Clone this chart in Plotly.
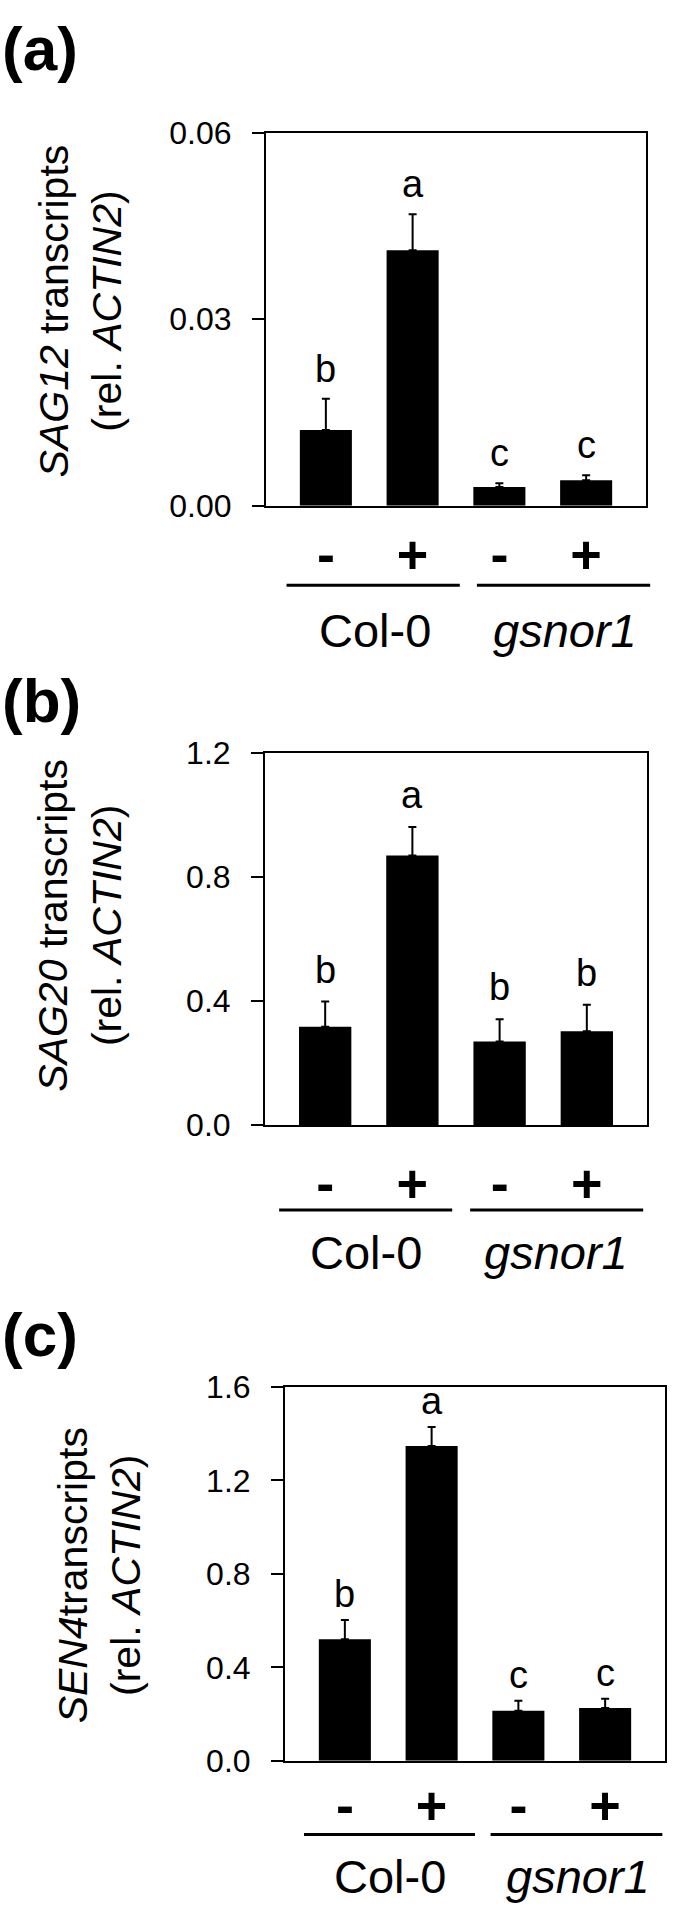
import plotly.graph_objects as go

W, H = 675, 1926

treatment = ['-', '+', '-', '+']
groups = ['Col-0', '<i>gsnor1</i>']

sag12_mean = [0.0122, 0.0411, 0.0030, 0.0041]
sag12_err = [0.0050, 0.0058, 0.0006, 0.0008]
sag12_letters = ['b', 'a', 'c', 'c']
sag12_ticks = [0.0, 0.03, 0.06]
sag12_ticktext = ['0.00', '0.03', '0.06']

sag20_mean = [0.317, 0.869, 0.269, 0.302]
sag20_err = [0.081, 0.092, 0.072, 0.086]
sag20_letters = ['b', 'a', 'b', 'b']
sag20_ticks = [0.0, 0.4, 0.8, 1.2]
sag20_ticktext = ['0.0', '0.4', '0.8', '1.2']

sen4_mean = [0.520, 1.347, 0.214, 0.226]
sen4_err = [0.083, 0.082, 0.043, 0.040]
sen4_letters = ['b', 'a', 'c', 'c']
sen4_ticks = [0.0, 0.4, 0.8, 1.2, 1.6]
sen4_ticktext = ['0.0', '0.4', '0.8', '1.2', '1.6']

FONT = 'Liberation Sans, Arial, sans-serif'


def px_x(x):
    return x / W


def px_y(y):
    return 1 - y / H


panels = [
    dict(tag='(a)', tag_y=31, mean=sag12_mean, err=sag12_err, letters=sag12_letters,
         ticks=sag12_ticks, ticktext=sag12_ticktext,
         title='<i>SAG12</i> transcripts<br>(rel. <i>ACTIN2</i>)', title_x=80, title_y=299,
         box=(266, 646, 117, 497), xstand=0, shift=30,
         lines=[(0.054, 0.510), (0.555, 1.011)], line_y=-0.213,
         text_x=[0.286, 0.786], text_y=-0.334),
    dict(tag='(b)', tag_y=695, mean=sag20_mean, err=sag20_err, letters=sag20_letters,
         ticks=sag20_ticks, ticktext=sag20_ticktext,
         title='<i>SAG20</i> transcripts<br>(rel. <i>ACTIN2</i>)', title_x=80, title_y=925,
         box=(265, 647, 749, 1128), xstand=10, shift=32,
         lines=[(0.037, 0.490), (0.537, 0.990)], line_y=-0.229,
         text_x=[0.264, 0.762], text_y=-0.343),
    dict(tag='(c)', tag_y=1342, mean=sen4_mean, err=sen4_err, letters=sen4_letters,
         ticks=sen4_ticks, ticktext=sen4_ticktext,
         title='<i>SEN4</i>transcripts<br>(rel. <i>ACTIN2</i>)', title_x=99, title_y=1587,
         box=(285, 665, 1395, 1776), xstand=-4, shift=26,
         lines=[(0.050, 0.500), (0.541, 0.993)], line_y=-0.197,
         text_x=[0.276, 0.770], text_y=-0.310),
]

fig = go.Figure()
annotations = []
shapes = []
layout = {}

for i, p in enumerate(panels, start=1):
    xa = 'x' if i == 1 else f'x{i}'
    ya = 'y' if i == 1 else f'y{i}'
    left, right, top, bottom = p['box']
    ymax = p['ticks'][-1]

    fig.add_trace(go.Bar(
        x=[0, 1, 2, 3], y=p['mean'], width=0.6,
        marker=dict(color='black', line=dict(width=0)),
        error_y=dict(type='data', array=p['err'], arrayminus=[0] * 4, symmetric=False,
                     color='black', thickness=2, width=4),
        xaxis=xa, yaxis=ya, showlegend=False))

    layout[f'xaxis{"" if i == 1 else i}'] = dict(
        domain=[px_x(left), px_x(right)], anchor=ya, range=[-0.69, 3.69],
        tickmode='array', tickvals=[0, 1, 2, 3], ticktext=[f'<b>{t}</b>' for t in treatment],
        tickfont=dict(family=FONT, size=54, color='black'), ticklabelstandoff=p['xstand'],
        showline=True, mirror=True, linecolor='black', linewidth=2,
        ticks='', showgrid=False, zeroline=False, fixedrange=True)
    layout[f'yaxis{"" if i == 1 else i}'] = dict(
        domain=[px_y(bottom), px_y(top)], anchor=xa, range=[0, ymax],
        tickmode='array', tickvals=p['ticks'], ticktext=p['ticktext'],
        tickfont=dict(family=FONT, size=32, color='black'), ticklabelstandoff=14,
        ticks='outside', ticklen=12, tickwidth=2, tickcolor='black',
        showline=True, mirror=True, linecolor='black', linewidth=2,
        showgrid=False, zeroline=False, fixedrange=True)

    # significance letters above error bars
    for j, (m, e, t) in enumerate(zip(p['mean'], p['err'], p['letters'])):
        annotations.append(dict(x=j, y=m + e, xref=xa, yref=ya, text=t, showarrow=False,
                                yanchor='middle', yshift=p['shift'],
                                font=dict(family=FONT, size=38, color='black')))

    # panel tag
    annotations.append(dict(x=0, y=px_y(p['tag_y']), xref='paper', yref='paper', text=f"<b>{p['tag']}</b>",
                            showarrow=False, xanchor='left', yanchor='middle',
                            font=dict(family=FONT, size=62, color='black')))

    # y title
    annotations.append(dict(x=px_x(p['title_x']), y=px_y(p['title_y']), xref='paper', yref='paper',
                            text=p['title'], textangle=-90, showarrow=False,
                            xanchor='center', yanchor='middle',
                            font=dict(family=FONT, size=41, color='black')))

    # genotype group lines + labels
    for (x0, x1), tx, g in zip(p['lines'], p['text_x'], groups):
        shapes.append(dict(type='line', xref=f'{xa} domain', yref=f'{ya} domain',
                           x0=x0, x1=x1, y0=p['line_y'], y1=p['line_y'],
                           line=dict(color='black', width=3)))
        annotations.append(dict(x=tx, y=p['text_y'], xref=f'{xa} domain', yref=f'{ya} domain',
                                text=g, showarrow=False, xanchor='center', yanchor='middle',
                                font=dict(family=FONT, size=47, color='black')))

fig.update_layout(
    width=W, height=H,
    margin=dict(l=0, r=0, t=0, b=0),
    paper_bgcolor='white', plot_bgcolor='white',
    annotations=annotations, shapes=shapes,
    **layout)

# page body margin would push the right edge out of the window
fig.write_html("out.html", config={'displayModeBar': False},
               post_script="document.body.style.margin='0';")
